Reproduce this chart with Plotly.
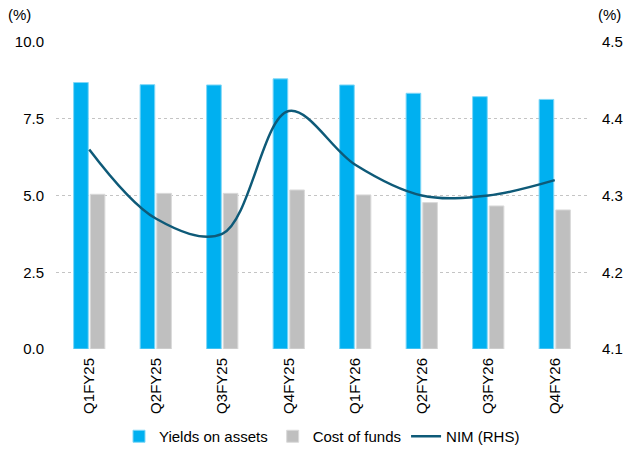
import plotly.graph_objects as go

categories = ["Q1FY25", "Q2FY25", "Q3FY25", "Q4FY25", "Q1FY26", "Q2FY26", "Q3FY26", "Q4FY26"]
yields_on_assets = [8.68, 8.61, 8.60, 8.80, 8.60, 8.33, 8.22, 8.13]
cost_of_funds = [5.04, 5.07, 5.07, 5.18, 5.02, 4.77, 4.66, 4.53]
nim = [4.36, 4.27, 4.25, 4.41, 4.34, 4.30, 4.30, 4.32]

FONT = "Liberation Sans, Arial, sans-serif"
FS = 15

fig = go.Figure()
fig.add_trace(go.Bar(x=categories, y=yields_on_assets, name="Yields on assets",
                     marker=dict(color="#00B0F0", line=dict(color="#7FD7F7", width=1))))
fig.add_trace(go.Bar(x=categories, y=cost_of_funds, name="Cost of funds",
                     marker=dict(color="#BFBFBF", line=dict(color="#DADADA", width=1))))
fig.add_trace(go.Scatter(x=categories, y=nim, name="NIM (RHS)", yaxis="y2", mode="lines",
                         line=dict(color="#0E5A78", width=2.5, shape="spline", smoothing=1.0)))

fig.update_layout(
    width=625, height=450,
    margin=dict(l=56, r=37, t=42, b=101),
    paper_bgcolor="white", plot_bgcolor="white",
    font=dict(family=FONT, size=FS, color="#000000"),
    barmode="group", bargap=0.5, bargroupgap=0.12,
    showlegend=True,
    legend=dict(orientation="h", x=0.5, xanchor="center", yref="container", y=0.03,
                yanchor="middle", font=dict(size=FS), itemwidth=30, tracegroupgap=0,
                bgcolor="rgba(0,0,0,0)"),
    xaxis=dict(tickangle=-90, showgrid=False, showline=False, ticks="", automargin=False,
               ticklabelstandoff=5, tickfont=dict(size=FS)),
    yaxis=dict(range=[0, 10], tickvals=[0, 2.5, 5, 7.5, 10], tickformat=".1f",
               showgrid=True, gridcolor="#C4C4C4", griddash="dot", gridwidth=1,
               zeroline=False, showline=False, ticks="", automargin=False,
               ticklabelstandoff=11, tickfont=dict(size=FS)),
    yaxis2=dict(range=[4.1, 4.5], tickvals=[4.1, 4.2, 4.3, 4.4, 4.5], tickformat=".1f",
                overlaying="y", side="right", showgrid=False, zeroline=False,
                showline=False, ticks="", automargin=False,
                ticklabelstandoff=13, tickfont=dict(size=FS)),
    annotations=[
        dict(text="(%)", xref="paper", yref="paper", x=-0.094, y=1.09, xanchor="left",
             yanchor="middle", showarrow=False, font=dict(size=FS)),
        dict(text="(%)", xref="paper", yref="paper", x=1.066, y=1.09, xanchor="right",
             yanchor="middle", showarrow=False, font=dict(size=FS)),
    ],
)

fig.write_html("out.html")
